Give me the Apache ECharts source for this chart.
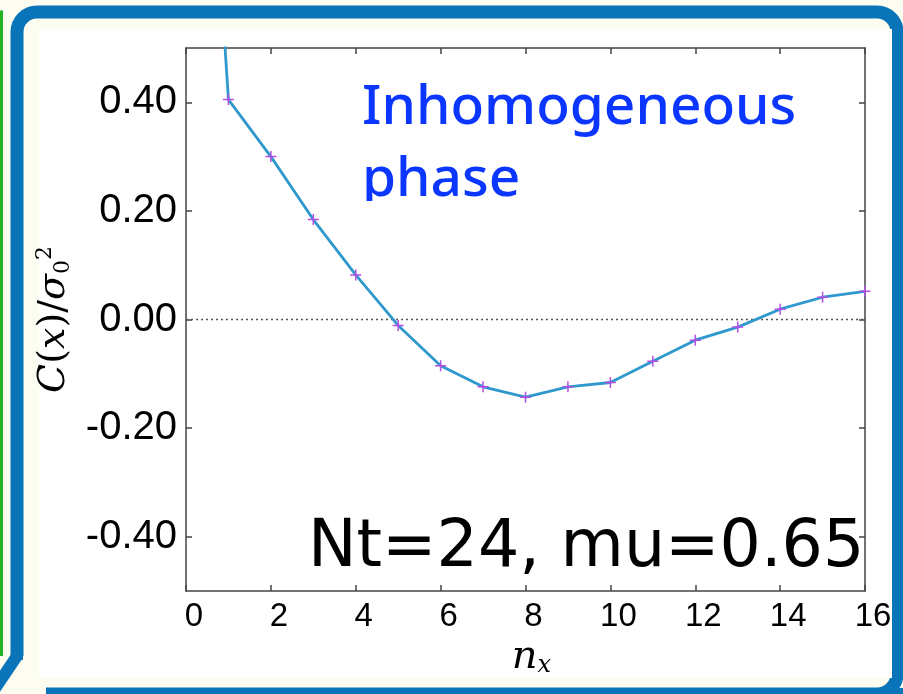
<!DOCTYPE html>
<html>
<head>
<meta charset="utf-8">
<script src="https://cdn.jsdelivr.net/npm/echarts@6/dist/echarts.min.js"></script>
<style>
html,body{margin:0;padding:0;background:#fcfcf0;}
#chart{width:903px;height:694px;}
</style>
</head>
<body>
<div id="chart"></div>
<script>
// ---- data ----
var nx = [0, 1, 2, 3, 4, 5, 6, 7, 8, 9, 10, 11, 12, 13, 14, 15, 16];
var corr = [1.6, 0.405, 0.300, 0.184, 0.082, -0.011, -0.085, -0.124, -0.143, -0.124, -0.116, -0.077, -0.038, -0.014, 0.019, 0.041, 0.052];
var xTicks = [0, 2, 4, 6, 8, 10, 12, 14, 16];
var yTicks = [-0.4, -0.2, 0, 0.2, 0.4];
var annotTitle = 'Inhomogeneous\nphase';
var annotParams = 'Nt=24, mu=0.65';

var seriesData = nx.map(function (x, i) {
  var item = { value: [x, corr[i]] };
  if (x === 0) item.symbol = 'none';
  return item;
});

var axisCol = '#444';
var chart = echarts.init(document.getElementById('chart'));
var option = {
  backgroundColor: '#fcfcf0',
  animation: false,
  grid: { left: 186, right: 38, top: 48, bottom: 103 },
  xAxis: [{
    type: 'value', min: 0, max: 16, interval: 2, position: 'bottom',
    name: '{n|n}{s|x}', nameLocation: 'middle', nameGap: 40,
    nameTextStyle: {
      padding: [0, 0, 0, 12],
      rich: {
        n: { fontFamily: 'DejaVu Serif', fontStyle: 'italic', fontSize: 40, lineHeight: 40, color: '#000' },
        s: { fontFamily: 'DejaVu Serif', fontStyle: 'italic', fontSize: 24, lineHeight: 12, verticalAlign: 'bottom', color: '#000' }
      }
    },
    axisLine: { show: true, onZero: false, lineStyle: { color: axisCol, width: 1.5 } },
    axisTick: { show: true, inside: true, length: 6, customValues: xTicks, lineStyle: { color: axisCol, width: 1.5 } },
    axisLabel: {
      customValues: xTicks, margin: 9,
      fontFamily: 'Liberation Sans', fontSize: 33, color: '#000',
      padding: [0, 0, 0, 16]
    },
    splitLine: { show: false }
  }, {
    type: 'value', min: 0, max: 16, interval: 2, position: 'top',
    axisLine: { show: true, onZero: false, lineStyle: { color: axisCol, width: 1.5 } },
    axisTick: { show: true, inside: true, length: 6, customValues: xTicks, lineStyle: { color: axisCol, width: 1.5 } },
    axisLabel: { show: false }, splitLine: { show: false }
  }],
  yAxis: [{
    type: 'value', min: -0.5, max: 0.5, interval: 0.1, position: 'left',
    name: '{i|C}{r|(}{i|x}{r|)/}{i|σ}{sb|0}{sp|2}', nameLocation: 'middle', nameGap: 112, nameRotate: 90,
    nameTextStyle: {
      rich: {
        i: { fontFamily: 'DejaVu Serif', fontStyle: 'italic', fontSize: 38, lineHeight: 40, color: '#000' },
        r: { fontFamily: 'DejaVu Serif', fontSize: 38, lineHeight: 40, color: '#000' },
        sb: { fontFamily: 'DejaVu Serif', fontSize: 22, lineHeight: 10, verticalAlign: 'bottom', color: '#000' },
        sp: { fontFamily: 'DejaVu Serif', fontSize: 22, lineHeight: 40, verticalAlign: 'top', color: '#000' }
      }
    },
    axisLine: { show: true, onZero: false, lineStyle: { color: axisCol, width: 1.5 } },
    axisTick: { show: true, inside: true, length: 6, customValues: yTicks, lineStyle: { color: axisCol, width: 1.5 } },
    axisLabel: {
      customValues: yTicks, margin: 9,
      fontFamily: 'Liberation Sans', fontSize: 40, color: '#000',
      padding: [16, 0, 0, 0],
      formatter: function (v) { return v.toFixed(2); }
    },
    splitLine: { show: false }
  }, {
    type: 'value', min: -0.5, max: 0.5, interval: 0.1, position: 'right',
    axisLine: { show: true, onZero: false, lineStyle: { color: axisCol, width: 1.5 } },
    axisTick: { show: true, inside: true, length: 6, customValues: yTicks, lineStyle: { color: axisCol, width: 1.5 } },
    axisLabel: { show: false }, splitLine: { show: false }
  }],
  series: [{
    type: 'line',
    data: seriesData,
    clip: true,
    symbol: 'path://M5,0L5,10M0,5L10,5',
    symbolSize: 11,
    itemStyle: { color: 'rgba(0,0,0,0)', borderColor: '#b44fe6', borderWidth: 1.5 },
    lineStyle: { color: '#2f98cc', width: 2.8 },
    z: 5,
    markLine: {
      silent: true, symbol: 'none', label: { show: false },
      lineStyle: { color: '#555', type: [2, 3], width: 1.3 },
      data: [{ yAxis: 0 }]
    }
  }],
  graphic: [
    { type: 'rect', z: -20, shape: { x: 0, y: 10, width: 3, height: 658, r: 1.5 }, style: { fill: '#22b322' } },
    { type: 'rect', z: -19, shape: { x: 17, y: 12, width: 880, height: 682, r: 20 }, style: { fill: 'none', stroke: '#0a74b9', lineWidth: 13 } },
    { type: 'polygon', z: -18, shape: { points: [[0, 656], [46, 656], [46, 694], [0, 694]] }, style: { fill: '#fcfcf0' } },
    { type: 'rect', z: -18, shape: { x: 11, y: 30, width: 12, height: 630 }, style: { fill: '#0a74b9' } },
    { type: 'line', z: -17, shape: { x1: 17, y1: 656, x2: -6, y2: 690 }, style: { stroke: '#0a74b9', lineWidth: 12 } },
    { type: 'rect', z: -16, shape: { x: 48, y: 688, width: 860, height: 8 }, style: { fill: '#0a74b9' } },
    { type: 'rect', z: -15, shape: { x: 39, y: 29, width: 853, height: 649 }, style: { fill: '#ffffff' } },
    { type: 'text', z: 20, x: 362, y: 72, style: { text: annotTitle, fontFamily: 'Noto Sans', fontWeight: 500, fontSize: 55, lineHeight: 72, fill: '#0a36ff', verticalAlign: 'top' } },
    { type: 'rect', z: 21, shape: { x: 355, y: 201, width: 200, height: 14 }, style: { fill: '#ffffff' } },
    { type: 'text', z: 20, x: 308, y: 549, style: { text: annotParams, fontFamily: 'DejaVu Sans', fontSize: 65, fill: '#000', verticalAlign: 'middle' } }
  ]
};
chart.setOption(option);
</script>
</body>
</html>
